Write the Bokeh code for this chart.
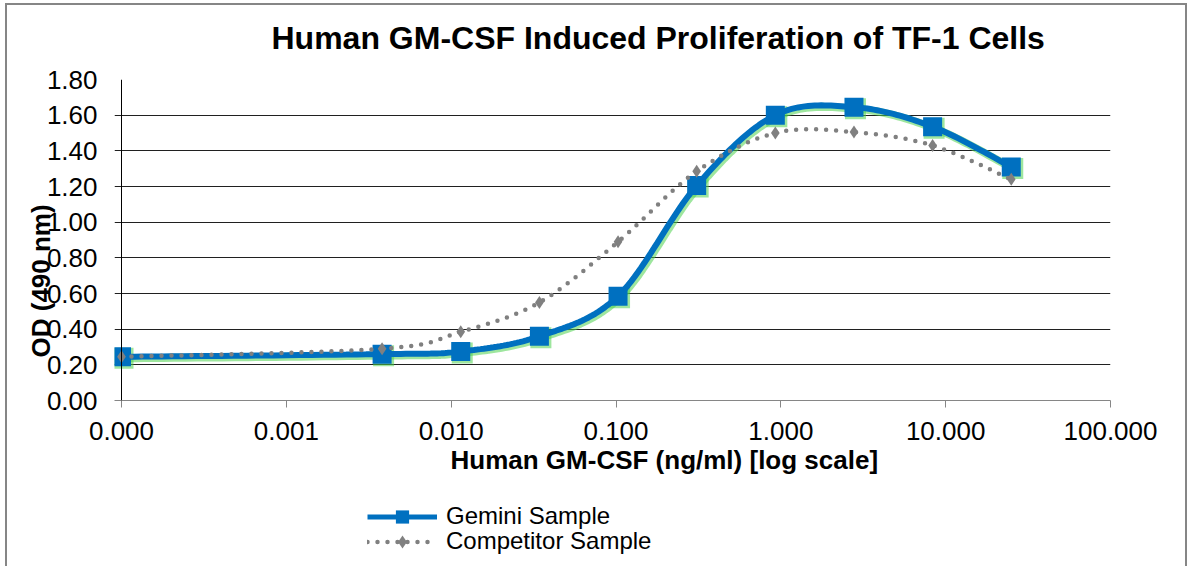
import math
from bokeh.plotting import figure
from bokeh.layouts import column
from bokeh.models import (Range1d, FixedTicker, CustomJSTickFormatter, PrintfTickFormatter,
                          Legend, LegendItem, Title, Span)
from bokeh.embed import file_html
from bokeh.resources import INLINE

# ---- data ----
concentration = [0.0001, 0.00381, 0.01143, 0.0343, 0.1029, 0.3086, 0.926, 2.778, 8.333, 25.0]
gemini = [0.245, 0.26, 0.275, 0.36, 0.585, 1.205, 1.60, 1.645, 1.535, 1.31]
competitor = [0.245, 0.29, 0.385, 0.55, 0.89, 1.285, 1.50, 1.505, 1.43, 1.24]
series_names = ["Gemini Sample", "Competitor Sample"]
x_ticks = [0.0001, 0.001, 0.01, 0.1, 1.0, 10.0, 100.0]
x_tick_labels = ["0.000", "0.001", "0.010", "0.100", "1.000", "10.000", "100.000"]
y_ticks = [0.0, 0.2, 0.4, 0.6, 0.8, 1.0, 1.2, 1.4, 1.6, 1.8]
title_text = "Human GM-CSF Induced Proliferation of TF-1 Cells"
x_title = "Human GM-CSF (ng/ml) [log scale]"
y_title = "OD (490 nm)"

FONT = "Liberation Sans"
BLUE = "#0070C0"
GRAY = "#808080"
GLOW = "#4fd24f"


def smooth(xs, ys, n=24):
    """Uniform Catmull-Rom smoothing in (log10 x, y) space (like Excel's smoothed line)."""
    lx = [math.log10(v) for v in xs]
    pts = list(zip(lx, ys))
    ext = [pts[0]] + pts + [pts[-1]]
    outx, outy = [], []
    for i in range(1, len(ext) - 2):
        p0, p1, p2, p3 = ext[i - 1], ext[i], ext[i + 1], ext[i + 2]
        c1 = (p1[0] + (p2[0] - p0[0]) / 6.0, p1[1] + (p2[1] - p0[1]) / 6.0)
        c2 = (p2[0] - (p3[0] - p1[0]) / 6.0, p2[1] - (p3[1] - p1[1]) / 6.0)
        for k in range(n):
            t = k / n
            a = (1 - t) ** 3
            b = 3 * (1 - t) ** 2 * t
            c = 3 * (1 - t) * t ** 2
            d = t ** 3
            outx.append(10 ** (a * p1[0] + b * c1[0] + c * c2[0] + d * p2[0]))
            outy.append(a * p1[1] + b * c1[1] + c * c2[1] + d * p2[1])
    outx.append(xs[-1])
    outy.append(ys[-1])
    return outx, outy


# the plot area starts a tick-length (7 px) left of the value axis, like the original,
# so the first markers are not cut in half; the gridlines there act as the y tick marks
PX_PER_DECADE = 164.8
x_start = x_ticks[0] / 10 ** (7 / PX_PER_DECADE)

# ================= main chart =================
p = figure(width=1190, height=490, x_axis_type="log",
           x_range=Range1d(x_start, x_ticks[-1]), y_range=Range1d(y_ticks[0], y_ticks[-1]),
           output_backend="svg", toolbar_location=None,
           min_border_left=114, min_border_right=80, min_border_top=79, min_border_bottom=90)
p.outline_line_color = None
p.background_fill_color = None
p.border_fill_color = None

# shifted ranges for the soft green glow below/right of the blue series
dx = 1.5 / PX_PER_DECADE
dy = 1.5 / 178.0
p.extra_x_ranges = {"glow": Range1d(x_start / 10 ** dx, x_ticks[-1] / 10 ** dx)}
p.extra_y_ranges = {"glow": Range1d(y_ticks[0] + dy, y_ticks[-1] + dy)}

# grid
p.xgrid.visible = False
p.ygrid.ticker = FixedTicker(ticks=y_ticks)
p.ygrid.grid_line_color = "#202020"
p.ygrid.grid_line_width = 1

# y axis: labels only; its line is drawn at the 0.000 position
ya = p.yaxis[0]
ya.ticker = FixedTicker(ticks=y_ticks)
ya.formatter = PrintfTickFormatter(format="%.2f")
ya.axis_line_color = None
ya.major_tick_line_color = None
ya.major_tick_out = 0
ya.major_tick_in = 0
ya.minor_tick_line_color = None
ya.major_label_text_font = FONT
ya.major_label_text_font_size = "26px"
ya.major_label_text_color = "black"
ya.major_label_standoff = 17
p.add_layout(Span(location=x_ticks[0], dimension="height", line_color="black", line_width=1))

# x axis
xa = p.xaxis[0]
xa.ticker = FixedTicker(ticks=x_ticks)
xa.formatter = CustomJSTickFormatter(args=dict(tick_vals=x_ticks, tick_texts=x_tick_labels), code="""
    for (let i = 0; i < tick_vals.length; i++) {
        if (Math.abs(Math.log10(tick) - Math.log10(tick_vals[i])) < 1e-6) { return tick_texts[i]; }
    }
    return tick.toFixed(3);
""")
xa.axis_line_color = "#868686"
xa.major_tick_line_color = "#868686"
xa.major_tick_out = 7
xa.major_tick_in = 0
xa.minor_tick_line_color = None
xa.major_label_text_font = FONT
xa.major_label_text_font_size = "26px"
xa.major_label_text_color = "black"
xa.major_label_standoff = 14

# series
gx, gy = smooth(concentration, gemini)
cx, cy = smooth(concentration, competitor)

p.line(gx, gy, line_color=GLOW, line_width=8, line_alpha=0.55,
       x_range_name="glow", y_range_name="glow")
p.scatter(concentration, gemini, marker="square", size=21, fill_color=GLOW,
          line_color=None, fill_alpha=0.55, x_range_name="glow", y_range_name="glow")
p.line(gx, gy, line_color=BLUE, line_width=6)
p.scatter(concentration, gemini, marker="square", size=19, fill_color=BLUE, line_color=None)
p.line(cx, cy, line_color=GRAY, line_width=4.5, line_dash="0 10", line_cap="round")
p.scatter(concentration, competitor, marker="diamond", size=13, fill_color=GRAY, line_color=None)

# ---- titles ----
p.title = Title(text=title_text, align="left", offset=157, vertical_align="bottom", standoff=0,
                text_font=FONT, text_font_size="32px", text_font_style="bold", text_color="black")
# spacer between the frame and the chart title
p.add_layout(Title(text=" ", text_font_size="1px", standoff=21), "above")

# x axis title (below the tick labels)
p.add_layout(Title(text=x_title, align="left", offset=336, vertical_align="top", standoff=4,
                   text_font=FONT, text_font_size="26px", text_font_style="bold",
                   text_color="black"), "below")

# y axis title (overlapping the tick labels, as in the original)
p.add_layout(Title(text=y_title, align="left", offset=43, vertical_align="bottom", standoff=-25,
                   text_font=FONT, text_font_size="26px", text_font_style="bold",
                   text_color="black"), "left")

# ================= legend strip =================
q = figure(width=1190, height=76, x_range=Range1d(0, 1), y_range=Range1d(10, 11),
           output_backend="svg", toolbar_location=None, x_axis_location=None, y_axis_location=None,
           min_border=0)
q.outline_line_color = None
q.background_fill_color = None
q.border_fill_color = None
q.grid.visible = False
# legend proxies: same data, outside this strip's y range, so only the legend shows them
lg_line = q.line(concentration, gemini, line_color=BLUE, line_width=5)
lg_pts = q.scatter(concentration, gemini, marker="square", fill_color=BLUE, line_color=None)
lc_line = q.line(concentration, competitor, line_color=GRAY, line_width=4.5, line_dash="0 10",
                 line_cap="round")
lc_pts = q.scatter(concentration, competitor, marker="diamond", fill_color=GRAY, line_color=None)

legend_style = dict(orientation="vertical", glyph_width=70, glyph_height=33, spacing=0, padding=0,
                    margin=0, label_standoff=9, label_text_font=FONT, label_text_font_size="24px",
                    label_text_color="black", border_line_color=None, background_fill_alpha=0)
q.add_layout(Legend(items=[LegendItem(label=series_names[0], renderers=[lg_line, lg_pts])],
                    location=(253, 33.5), **legend_style), "center")
q.add_layout(Legend(items=[LegendItem(label=series_names[1], renderers=[lc_line, lc_pts])],
                    location=(253, 8.5), **legend_style), "center")

# ================= page: chart-area border drawn behind transparent canvases =================
lay = column(p, q, spacing=0)
lay.styles = {
    "background-color": "white",
    "background-image": ("linear-gradient(#868686, #868686), linear-gradient(#868686, #868686), "
                         "linear-gradient(#868686, #868686)"),
    "background-size": "2px 100%, 1182px 2px, 2px 100%",
    "background-position": "5px 4px, 5px 3px, 1185px 4px",
    "background-repeat": "no-repeat",
}

open("out.html", "w").write(file_html(lay, INLINE))
